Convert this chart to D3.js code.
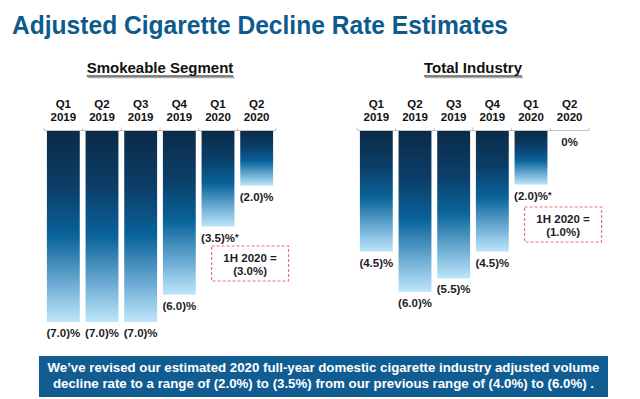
<!DOCTYPE html>
<html lang="en">
<head>
<meta charset="UTF-8">
<style>
  body { margin: 0; background: #fff; }
</style>
</head>
<body>
<div id="chart"></div>
<script src="https://d3js.org/d3.v7.min.js"></script>
<script>
// data
var categories = ["Q1 2019", "Q2 2019", "Q3 2019", "Q4 2019", "Q1 2020", "Q2 2020"];
var smokeable = [7.0, 7.0, 7.0, 6.0, 3.5, 2.0];
var industry = [4.5, 6.0, 5.5, 4.5, 2.0, 0];
var smokeableStar = [false, false, false, false, true, false];
var industryStar = [false, false, false, false, true, false];
var halfYear = ["(3.0%)", "(1.0%)"];
var panelTitles = ["Smokeable Segment", "Total Industry"];
var footer = [
    "We\u2019ve revised our estimated 2020 full-year domestic cigarette industry adjusted volume",
    "decline rate to a range of (2.0%) to (3.5%) from our previous range of (4.0%) to (6.0%) ."
];

var width = 640, height = 399;

var svg = d3.select("#chart").append("svg")
    .attr("width", width)
    .attr("height", height)
    .attr("font-family", "Liberation Sans, Arimo, Arial, Helvetica, sans-serif")
    .attr("font-weight", "bold");

// per-bar gradient, dark on top, pale at the bottom
var grad = svg.append("defs").append("linearGradient")
    .attr("id", "barGrad")
    .attr("x1", 0).attr("y1", 0).attr("x2", 0).attr("y2", 1);
[[0, "#0a2b47"], [0.3, "#0b3f69"], [0.55, "#09639a"], [0.78, "#64a6cf"], [1, "#bde6fb"]]
    .forEach(function(s) {
        grad.append("stop").attr("offset", s[0]).attr("stop-color", s[1]);
    });

// title
svg.append("text")
    .attr("x", 12).attr("y", 34)
    .attr("font-size", 25)
    .attr("textLength", 496)
    .attr("lengthAdjust", "spacingAndGlyphs")
    .attr("fill", "#0d5a8c")
    .text("Adjusted Cigarette Decline Rate Estimates");

function fmt(v) {
    if (v === 0) return "0%";
    return "(" + v.toFixed(1) + ")%";
}

function panel(opt) {
    var g = svg.append("g");

    var x = d3.scaleBand()
        .domain(categories)
        .range(opt.xRange)
        .paddingInner(0.15)
        .paddingOuter(0.075);

    var y = d3.scaleLinear()
        .domain([0, 7])
        .range(opt.yRange);

    // panel heading, underlined with a grey shadow
    var cx = (opt.xRange[0] + opt.xRange[1]) / 2;
    var head = g.append("text")
        .attr("x", cx).attr("y", 73)
        .attr("text-anchor", "middle")
        .attr("font-size", 15)
        .attr("fill", "#111")
        .text(opt.title);
    var hw = head.node().getComputedTextLength();
    g.append("line")
        .attr("x1", cx - hw / 2 + 1).attr("x2", cx + hw / 2 + 1)
        .attr("y1", 77.5).attr("y2", 77.5)
        .attr("stroke", "#aaa").attr("stroke-width", 1.5);
    g.append("line")
        .attr("x1", cx - hw / 2).attr("x2", cx + hw / 2)
        .attr("y1", 76).attr("y2", 76)
        .attr("stroke", "#111").attr("stroke-width", 1.2);

    // quarter labels
    var ql = g.selectAll(".ql").data(categories).enter().append("text")
        .attr("class", "ql")
        .attr("text-anchor", "middle")
        .attr("font-size", 11.5)
        .attr("fill", "#111");
    ql.append("tspan")
        .attr("x", function(d) { return x(d) + x.bandwidth() / 2; })
        .attr("y", 107.5)
        .text(function(d) { return d.split(" ")[0]; });
    ql.append("tspan")
        .attr("x", function(d) { return x(d) + x.bandwidth() / 2; })
        .attr("y", 121)
        .text(function(d) { return d.split(" ")[1]; });

    // baseline with ticks at band edges
    var y0 = y(0) - 0.5;
    var step = x.step();
    var edges = d3.range(categories.length + 1).map(function(i) { return opt.xRange[0] + i * step; });
    g.append("line")
        .attr("x1", opt.xRange[0]).attr("x2", opt.xRange[1])
        .attr("y1", y0).attr("y2", y0)
        .attr("stroke", "#c4c4c4").attr("stroke-width", 1);
    g.selectAll(".tk").data(edges).enter().append("line")
        .attr("x1", function(d) { return d; }).attr("x2", function(d) { return d; })
        .attr("y1", y0 - 3).attr("y2", y0)
        .attr("stroke", "#c4c4c4");

    // bars
    g.selectAll(".bar").data(opt.values).enter().append("rect")
        .attr("x", function(d, i) { return x(categories[i]); })
        .attr("y", y(0))
        .attr("width", x.bandwidth())
        .attr("height", function(d) { return y(d) - y(0); })
        .attr("fill", "url(#barGrad)");

    // value labels
    var vl = g.selectAll(".vl").data(opt.values).enter().append("text")
        .attr("x", function(d, i) { return x(categories[i]) + x.bandwidth() / 2; })
        .attr("y", function(d) { return y(d) + 15; })
        .attr("text-anchor", "middle")
        .attr("font-size", 11.5)
        .attr("fill", "#1c1c28")
        .text(function(d) { return fmt(d); });
    vl.filter(function(d, i) { return opt.stars[i]; })
        .attr("text-anchor", "start")
        .attr("x", function(d, i) {
            var el = this, cx0 = +el.getAttribute("x");
            return cx0 - el.getComputedTextLength() / 2;
        })
        .append("tspan")
        .attr("font-size", 9)
        .attr("dy", -2)
        .text("*");

    // 1H 2020 dashed note box
    var bx = x(categories[4]) + 10, by = opt.boxY, bw = 77, bh = 35;
    g.append("rect")
        .attr("x", bx).attr("y", by)
        .attr("width", bw).attr("height", bh)
        .attr("fill", "none")
        .attr("stroke", "#ee6f78")
        .attr("stroke-width", 1.2)
        .attr("stroke-dasharray", "3,2");
    g.append("text")
        .attr("x", bx + bw / 2).attr("y", by + 15.5)
        .attr("text-anchor", "middle")
        .attr("font-size", 11.5)
        .attr("fill", "#1c1c28")
        .text("1H 2020 =");
    g.append("text")
        .attr("x", bx + bw / 2).attr("y", by + 28.5)
        .attr("text-anchor", "middle")
        .attr("font-size", 11.5)
        .attr("fill", "#1c1c28")
        .text(opt.note);
}

panel({
    title: panelTitles[0],
    values: smokeable,
    stars: smokeableStar,
    note: halfYear[0],
    xRange: [44, 276],
    yRange: [131, 322],
    boxY: 246
});

panel({
    title: panelTitles[1],
    values: industry,
    stars: industryStar,
    note: halfYear[1],
    xRange: [357, 589],
    yRange: [131, 318.6],
    boxY: 207
});

// footer banner
svg.append("rect")
    .attr("x", 39).attr("y", 356)
    .attr("width", 569).attr("height", 41)
    .attr("fill", "#115d92");
svg.selectAll(".ft").data(footer).enter().append("text")
    .attr("x", 323.5)
    .attr("y", function(d, i) { return 372 + i * 16; })
    .attr("text-anchor", "middle")
    .attr("font-size", 12.5)
    .attr("textLength", function(d, i) { return i === 0 ? 552 : 541; })
    .attr("lengthAdjust", "spacingAndGlyphs")
    .attr("fill", "#fff")
    .text(function(d) { return d; });
</script>
</body>
</html>
